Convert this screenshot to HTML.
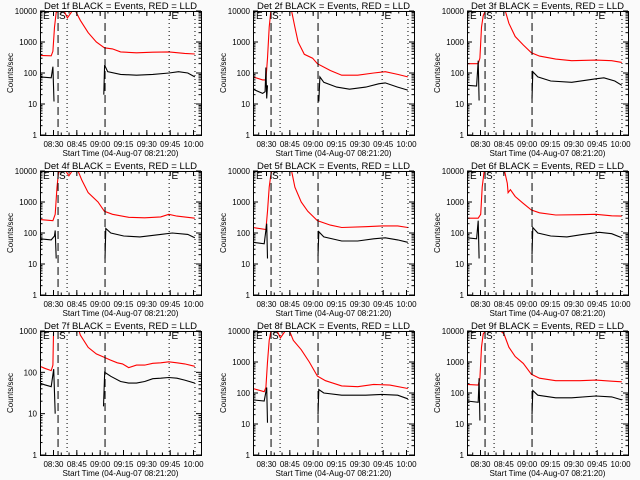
<!DOCTYPE html>
<html><head><meta charset="utf-8"><style>
html,body{margin:0;padding:0;background:#fafafa;}
svg{display:block;font-family:"Liberation Sans",sans-serif;}
</style></head><body>
<svg id="chart" width="640" height="480" viewBox="0 0 640 480"></svg>
<script>
// detector names
const detectors = ["1f","2f","3f","4f","5f","6f","7f","8f","9f"];
// y max decade per panel
const yMaxDecade = [4,4,4,4,4,4,3,4,4];
// x tick labels (minutes since 08:21:20)
const xTickMinutes = [8.67,23.67,38.67,53.67,68.67,83.67,98.67];
const xTickLabels = ["08:30","08:45","09:00","09:15","09:30","09:45","10:00"];
// event markers (minutes)
const dashedLines = [11.6,41.8];
const dottedLines = [17.4,83,99.6];
// series: [minute, counts/sec]; null value = data gap (off-scale)
const red1 = [[0,370],[7.2,360],[8.3,500],[9.3,3000],[10.4,9000],[12.4,10000],[15.5,10000],[17.6,6000],[20.7,10000],[22.8,10000],[25.9,5000],[31,2000],[36.2,1000],[41.4,650],[46.6,600],[51.8,480],[62,450],[72.5,470],[83,480],[93,430],[99.5,410]];
const black1 = [[0,75],[7.2,70],[8.3,160],[9,12],[9.6,null],[41,20],[41.5,180],[43.5,110],[51.8,90],[62,85],[72.5,90],[83,100],[89,110],[95,100],[99.5,75]];
const red2 = [[0,75],[6.2,60],[8.3,60],[9.3,300],[10.4,3000],[11.4,9000],[12.4,12000],[24.8,10000],[26.9,3000],[29,1000],[33,400],[38.3,300],[41.4,200],[49.7,120],[57,85],[67.3,85],[77.6,100],[85,110],[93,90],[99.5,75]];
const black2 = [[0,30],[6.2,22],[7.8,25],[8.3,150],[8.8,15],[9.3,40],[10.9,null],[42.3,12],[43,75],[45.5,50],[53.8,35],[62,30],[72.5,35],[80.7,45],[85,48],[93,35],[99.5,28]];
const red3 = [[0,200],[7.2,200],[8.3,300],[9.3,3000],[10.4,7000],[11.4,9000],[12.4,12000],[24.6,10000],[26.9,4000],[31,1500],[36.2,800],[41.4,450],[46.6,350],[57,280],[67.3,250],[82.8,260],[93,250],[99.5,220]];
const black3 = [[0,40],[6.2,38],[7.2,250],[7.8,13],[8.3,null],[41.8,15],[42.3,110],[45.5,75],[53.8,55],[67.3,50],[82.8,65],[88,70],[95,55],[99.5,40]];
const red4 = [[0,270],[8.3,250],[9.8,400],[10.9,3000],[11.9,9000],[13.5,10000],[16.6,10000],[18.6,7000],[20.7,10000],[23.8,12000],[26.9,5000],[31,2000],[37.3,1000],[41.4,500],[46.6,400],[57,320],[67.3,310],[77.6,330],[82.8,400],[88,350],[99.5,300]];
const black4 = [[0,65],[7.2,60],[9.3,80],[9.8,120],[10.4,15],[10.9,null],[41.8,15],[42.3,140],[45.5,100],[53.8,80],[64.2,75],[77.6,90],[85,100],[95,90],[99.5,70]];
const red5 = [[0,150],[8.3,130],[9.3,500],[10.4,3000],[11.4,7000],[12.4,12000],[24.8,10000],[26.9,3000],[31,1000],[35.2,500],[41.4,250],[49.7,180],[57,150],[72.5,160],[82.8,170],[93,170],[99.5,150]];
const black5 = [[0,50],[7.2,45],[8.8,200],[9.3,15],[10.4,null],[41.8,18],[42.3,110],[45.5,75],[57,55],[67.3,55],[77.6,65],[85,70],[93,60],[99.5,50]];
const red6 = [[0,300],[7.2,300],[8.8,400],[9.8,3000],[10.9,9000],[12.4,12000],[23.8,12000],[25.9,4000],[26.4,2000],[27.9,2500],[31,1500],[36.2,900],[41.4,550],[46.6,450],[57,380],[72.5,390],[82.8,400],[93,360],[99.5,350]];
const black6 = [[0,70],[6.2,65],[7.2,250],[7.8,15],[8.3,null],[41.8,20],[42.3,150],[45.5,100],[53.8,80],[64.2,75],[74.5,90],[85,105],[93,95],[99.5,70]];
const red7 = [[0,140],[3,125],[7.2,110],[8.3,150],[8.8,1500],[23.8,1500],[25.9,800],[31,400],[36.2,280],[41.4,230],[45,200],[49.7,170],[53,160],[57,130],[62,150],[67.3,150],[72.5,165],[77.6,170],[82.8,180],[88,170],[93,160],[99.5,140]];
const black7 = [[0,55],[3,50],[7.2,45],[8.8,120],[9.8,10],[10.4,null],[40.8,15],[41.6,100],[45.5,80],[51.8,60],[57,55],[62,55],[67.3,60],[72.5,70],[77.6,72],[82.8,75],[88,72],[93,65],[99.5,55]];
const red8 = [[0,140],[7.2,110],[8.3,150],[9.3,1000],[10.4,5000],[11.4,9000],[12.4,10000],[15.5,10000],[17.6,6000],[20.7,10000],[22.8,12000],[25.9,5000],[31,2500],[36.2,1000],[41.4,350],[46.6,250],[57,170],[67.3,160],[77.6,190],[88,180],[99.5,140]];
const black8 = [[0,60],[7.2,55],[8.8,150],[9.3,11],[10.4,null],[41.8,20],[42.3,130],[45.5,100],[57,85],[72.5,85],[82.8,90],[93,85],[99.5,65]];
const red9 = [[0,190],[7.2,180],[8.3,300],[9.3,3000],[10.4,8000],[12.4,11000],[20.7,11000],[23.8,8000],[26.9,3000],[31,1500],[36.2,900],[41.4,400],[46.6,300],[57,250],[72.5,250],[82.8,260],[93,240],[99.5,230]];
const black9 = [[0,55],[7.2,50],[7.8,300],[8.3,13],[8.8,null],[41.8,20],[42.3,120],[45.5,85],[57,70],[67.3,70],[82.8,80],[93,75],[99.5,60]];
const redSeries = [red1,red2,red3,red4,red5,red6,red7,red8,red9];
const blackSeries = [black1,black2,black3,black4,black5,black6,black7,black8,black9];

const NS = "http://www.w3.org/2000/svg";
const svg = document.getElementById("chart");
function mk(tag, attrs, parent){
  const e = document.createElementNS(NS, tag);
  for (const k in attrs) e.setAttribute(k, attrs[k]);
  parent.appendChild(e);
  return e;
}
const defs = mk("defs", {}, svg);
const PW = 161, PH = 124, XS = 1.556;

for (let i = 0; i < 9; i++) {
  const c = i % 3, r = Math.floor(i / 3);
  const L = Math.round(40 + 213.33 * c), T = 11 + 160 * r, B = T + PH, R = L + PW;
  const dmax = yMaxDecade[i];
  const xf = m => L + m * XS;
  const yf = v => B - (Math.log10(Math.max(v, 0.1)) / dmax) * PH;
  const pathOf = arr => {
    let d = "", pen = false;
    arr.forEach(p => {
      if (p[1] === null) { pen = false; return; }
      d += (pen ? "L" : "M") + xf(p[0]).toFixed(1) + "," + yf(p[1]).toFixed(1);
      pen = true;
    });
    return d;
  };

  const g = mk("g", {}, svg);
  
  

  const cp = mk("clipPath", {id: "cp" + i}, defs);
  mk("rect", {x: L, y: T, width: PW, height: PH}, cp);

  const title = mk("text", {x: L + PW / 2, y: T - 2, "font-size": 9, "text-anchor": "middle", textLength: 153, lengthAdjust: "spacingAndGlyphs", fill: "#000"}, g);
  title.textContent = "Det " + detectors[i] + " BLACK = Events, RED = LLD";
  
  

  const plot = mk("g", {"clip-path": "url(#cp" + i + ")"}, g);
  const red = mk("path", {d: pathOf(redSeries[i]), fill: "none", stroke: "#ff0000", "stroke-width": 1.1}, plot);
  
  
  const blk = mk("path", {d: pathOf(blackSeries[i]), fill: "none", stroke: "#000", "stroke-width": 1.1}, plot);
  
  

  dashedLines.forEach(m => {
    const l = mk("line", {x1: xf(m), x2: xf(m), y1: T, y2: B, stroke: "#000", "stroke-width": 1, "stroke-dasharray": "8,4"}, plot);
    
    
  });
  dottedLines.forEach(m => {
    const l = mk("line", {x1: xf(m), x2: xf(m), y1: T, y2: B, stroke: "#000", "stroke-width": 1, "stroke-dasharray": "1,3"}, plot);
    
    
  });
  [["E", L + 3], ["S", xf(12.2)], ["E", xf(84.5)]].forEach(a => {
    const t = mk("text", {x: a[1], y: T + 8, "font-size": 10, fill: "#000"}, plot);
    t.textContent = a[0];
    
    
  });

  const fr = mk("rect", {x: L + 0.5, y: T + 0.5, width: PW, height: PH, fill: "none", stroke: "#000", "stroke-width": 1}, g);
  
  

  for (let d = 0; d <= dmax; d++) {
    const y = yf(Math.pow(10, d));
    mk("line", {x1: L, x2: L + 5, y1: y, y2: y, stroke: "#000"}, g);
    mk("line", {x1: R, x2: R - 5, y1: y, y2: y, stroke: "#000"}, g);
    const lb = mk("text", {x: L - 3, y: y + 3, "font-size": 8, "text-anchor": "end", fill: "#000"}, g);
    lb.textContent = String(Math.pow(10, d));
    
    
    if (d < dmax) for (let k = 2; k <= 9; k++) {
      const ym = yf(k * Math.pow(10, d));
      mk("line", {x1: L, x2: L + 2.5, y1: ym, y2: ym, stroke: "#000"}, g);
      mk("line", {x1: R, x2: R - 2.5, y1: ym, y2: ym, stroke: "#000"}, g);
    }
  }
  xTickMinutes.forEach((m, j) => {
    const x = xf(m);
    mk("line", {x1: x, x2: x, y1: B, y2: B - 5, stroke: "#000"}, g);
    mk("line", {x1: x, x2: x, y1: T, y2: T + 5, stroke: "#000"}, g);
    const lb = mk("text", {x: x, y: B + 12, "font-size": 8, "text-anchor": "middle", fill: "#000"}, g);
    lb.textContent = xTickLabels[j];
    
    
  });
  for (let m = 3.67; m < 103.5; m += 5) {
    const x = xf(m);
    mk("line", {x1: x, x2: x, y1: B, y2: B - 2.5, stroke: "#000"}, g);
    mk("line", {x1: x, x2: x, y1: T, y2: T + 2.5, stroke: "#000"}, g);
  }
  const xt = mk("text", {x: L + PW / 2, y: B + 21, "font-size": 8.5, "text-anchor": "middle", textLength: 116, lengthAdjust: "spacingAndGlyphs", fill: "#000"}, g);
  xt.textContent = "Start Time (04-Aug-07 08:21:20)";
  
  
  const yt = mk("text", {x: 0, y: 0, "font-size": 8, "text-anchor": "middle", fill: "#000", transform: "translate(" + (L - 27) + "," + (T + PH / 2) + ") rotate(-90)"}, g);
  yt.textContent = "Counts/sec";
  
  
}
</script>
</body></html>
